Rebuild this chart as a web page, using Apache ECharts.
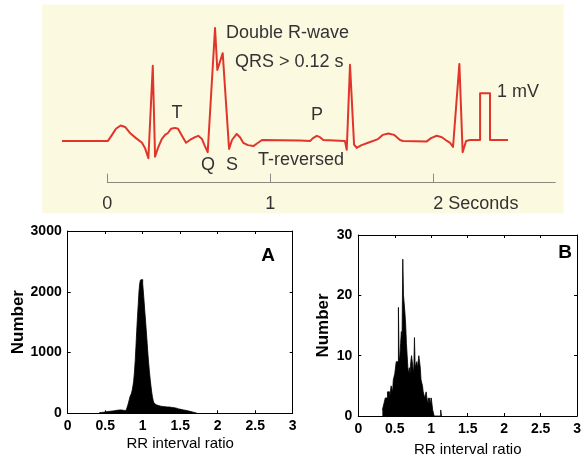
<!DOCTYPE html>
<html>
<head>
<meta charset="utf-8">
<script src="https://cdn.jsdelivr.net/npm/echarts@6/dist/echarts.min.js"></script>
<style>
  html, body { margin: 0; padding: 0; background: #fff; }
  #chart { width: 584px; height: 462px; }
</style>
</head>
<body>
<div id="chart"></div>
<script>
  // ECG trace: time in seconds, amplitude in mV
  var ecgTime = [-0.278, 0.004, 0.029, 0.053, 0.082, 0.109, 0.139, 0.176, 0.213, 0.231,
    0.252, 0.279, 0.293, 0.311, 0.334, 0.354, 0.372, 0.391, 0.415, 0.434,
    0.458, 0.483, 0.507, 0.538, 0.558, 0.581, 0.599, 0.616, 0.661, 0.675,
    0.708, 0.747, 0.765, 0.794, 0.814, 0.834, 0.863, 0.896, 0.925, 0.949,
    1.182, 1.244, 1.262, 1.285, 1.305, 1.325, 1.458, 1.469, 1.489, 1.514,
    1.530, 1.560, 1.600, 1.661, 1.691, 1.724, 1.759, 1.796, 1.814, 1.960,
    1.986, 2.021, 2.053, 2.084, 2.103, 2.121, 2.160, 2.180, 2.201, 2.225,
    2.287, 2.287, 2.348, 2.348, 2.458]
  var ecgVolt = [-0.02, -0.02, 0.11, 0.24, 0.31, 0.28, 0.15, 0.04, -0.06, -0.17,
    -0.39, 1.59, -0.36, -0.17, 0.02, 0.11, 0.15, 0.24, 0.26, 0.24,
    0.09, -0.06, 0.00, 0.06, 0.09, 0.02, -0.13, -0.26, 2.40, 1.50,
    1.86, -0.19, 0.00, 0.13, 0.06, -0.06, -0.11, -0.13, -0.06, 0.00,
    -0.01, -0.02, 0.04, 0.09, 0.06, 0.00, -0.02, -0.21, 1.61, -0.10,
    -0.17, -0.11, -0.06, 0.02, 0.11, 0.14, 0.11, 0.00, -0.02, -0.03,
    0.04, 0.09, 0.06, -0.02, -0.06, -0.15, 1.63, -0.26, -0.02, 0.00,
    0.00, 1.00, 1.00, 0.00, 0.00]
  var timeTicks = [0, 1, 2]

  // RR interval ratio histograms, bins of 0.01
  var binWidth = 0.01
  var startA = 0.42
  var countsA = [10, 12, 14, 16, 16, 18, 20, 22, 24, 26,
    28, 30, 30, 32, 34, 33, 36, 38, 40, 42,
    44, 46, 48, 50, 52, 54, 55, 54, 56, 55,
    52, 50, 48, 46, 45, 48, 60, 90,
    130, 170, 220, 270, 300, 330, 380, 450, 540, 680,
    860, 1100, 1350, 1580, 1780, 2000, 2130, 2195, 2210, 2200,
    2130, 1980, 1820, 1650, 1490, 1320, 1150, 970, 820, 680,
    560, 450, 350, 270, 210, 170, 150, 140, 135, 130,
    128,
    125, 122, 118, 120, 115, 112, 110, 112, 108, 105,
    106, 104, 102, 100, 103, 100, 98, 96, 97, 95,
    92, 90, 88, 85, 80, 76, 72, 70, 68, 65,
    62, 58, 56, 54, 52, 50, 47, 45, 42, 38,
    35, 32, 29, 26, 23, 20, 17, 14, 10, 6,
    3]
  var startB = 0.33
  var countsB = [1, 1, 2, 2, 3, 3, 3, 4, 4, 4,
    3, 4, 5, 5, 4, 6, 6, 7, 7, 9,
    9, 9, 18, 9, 10, 12, 14, 13, 26, 20,
    20, 17, 15, 12, 10, 8, 7, 8, 7, 9,
    10, 9, 8, 7, 13, 8, 8, 9, 8, 8,
    10, 9, 8, 6, 6, 5, 4, 4, 3, 3,
    4, 3, 2, 3, 2, 3, 2, 3, 2, 1,
    1, 0, 0, 0, 0, 0, 0, 0, 0, 0,
    1]

  var font = 'Liberation Sans, Arial, Helvetica, sans-serif'
  var textGrey = '#333333'

  function histPoints(start, counts) {
    var pts = []
    counts.forEach(function (c, i) {
      pts.push([+(start + i * binWidth).toFixed(2), c])
    })
    pts.push([+(start + counts.length * binWidth).toFixed(2), 0])
    return pts
  }

  function boxAxesX(grid, gap) {
    var common = {
      gridIndex: grid, type: 'value', min: 0, max: 3, interval: 0.5,
      axisLine: {onZero: false, lineStyle: {color: '#000', width: 1}},
      axisTick: {inside: true, length: 3, lineStyle: {color: '#000'}},
      splitLine: {show: false}
    }
    var bottom = Object.assign({}, common, {
      position: 'bottom',
      axisLabel: {color: '#000', fontSize: 14, fontWeight: 'bold', fontFamily: font, margin: 6},
      name: 'RR interval ratio', nameLocation: 'middle', nameGap: gap,
      nameTextStyle: {color: '#000', fontSize: 15, fontFamily: font}
    })
    var top = Object.assign({}, common, {position: 'top', axisLabel: {show: false}})
    return [bottom, top]
  }

  function boxAxesY(grid, max, interval, gap) {
    var common = {
      gridIndex: grid, type: 'value', min: 0, max: max, interval: interval,
      axisLine: {show: true, onZero: false, lineStyle: {color: '#000', width: 1}},
      axisTick: {show: true, inside: true, length: 3, lineStyle: {color: '#000'}},
      splitLine: {show: false}
    }
    var left = Object.assign({}, common, {
      position: 'left',
      axisLabel: {
        color: '#000', fontSize: 14, fontWeight: 'bold', fontFamily: font, margin: 6,
        formatter: function (v) { return String(v) }
      },
      name: 'Number', nameLocation: 'middle', nameGap: gap,
      nameTextStyle: {color: '#000', fontSize: 17, fontWeight: 'bold', fontFamily: font}
    })
    var right = Object.assign({}, common, {position: 'right', axisLabel: {show: false}})
    return [left, right]
  }

  function label(text, x, y, align, size, weight, color) {
    return {
      type: 'text', x: x, y: y, z: 100,
      style: {
        text: text, fill: color || textGrey, textAlign: align, textVerticalAlign: 'middle',
        font: (weight || 'normal') + ' ' + (size || 18) + 'px ' + font
      }
    }
  }

  var chart = echarts.init(document.getElementById('chart'))
  chart.setOption({
    animation: false,
    backgroundColor: '#fff',
    grid: [
      {left: 42.1, top: 4.6, width: 521.6, height: 208.7, show: true, backgroundColor: '#fcf9e1', borderWidth: 0},
      {left: 107.3, top: 172, width: 448, height: 10.7},
      {left: 67.7, top: 231, width: 225, height: 182.3},
      {left: 358.3, top: 235, width: 224.4, height: 181}
    ],
    xAxis: [
      {gridIndex: 0, type: 'value', min: -0.4, max: 2.8, show: false},
      {
        gridIndex: 1, type: 'value', min: 0, max: 2.748,
        axisLine: {onZero: false, lineStyle: {color: '#8a8a84', width: 1}},
        axisTick: {inside: true, length: 9, customValues: timeTicks, lineStyle: {color: '#8a8a84'}},
        splitLine: {show: false},
        axisLabel: {
          customValues: timeTicks, color: textGrey, fontSize: 18, fontFamily: font, margin: 12,
          formatter: function (v) { return v === 2 ? '{s|2 Seconds}' : String(v) },
          rich: {s: {color: textGrey, fontSize: 18, fontFamily: font, padding: [0, 0, 0, 85]}}
        }
      }
    ].concat(boxAxesX(2, 23), boxAxesX(3, 26)),
    yAxis: [
      {gridIndex: 0, type: 'value', min: -1.57, max: 2.9, show: false},
      {gridIndex: 1, type: 'value', min: 0, max: 1, show: false}
    ].concat(boxAxesY(2, 3000, 1000, 40), boxAxesY(3, 30, 10, 26)),
    series: [
      {
        type: 'line', xAxisIndex: 0, yAxisIndex: 0, showSymbol: false,
        data: ecgTime.map(function (t, i) { return [t, ecgVolt[i]] }),
        lineStyle: {color: '#e1352b', width: 2, join: 'round'}
      },
      {
        type: 'line', xAxisIndex: 2, yAxisIndex: 2, step: 'end', symbol: 'none',
        data: histPoints(startA, countsA),
        lineStyle: {color: '#000', width: 0.8}, areaStyle: {color: '#000', opacity: 1}
      },
      {
        type: 'line', xAxisIndex: 4, yAxisIndex: 4, step: 'end', symbol: 'none',
        data: histPoints(startB, countsB),
        lineStyle: {color: '#000', width: 0.8}, areaStyle: {color: '#000', opacity: 1}
      }
    ],
    graphic: [
      label('Double R-wave', 226, 33, 'left'),
      label('QRS > 0.12 s', 235, 62, 'left'),
      label('T', 177, 113, 'center'),
      label('P', 317, 115, 'center'),
      label('Q', 208, 165, 'center'),
      label('S', 232, 165, 'center'),
      label('T-reversed', 258, 160, 'left'),
      label('1 mV', 497, 92, 'left'),
      label('A', 268, 256, 'center', 19, 'bold', '#000'),
      label('B', 565, 253, 'center', 19, 'bold', '#000')
    ]
  })
</script>
</body>
</html>
